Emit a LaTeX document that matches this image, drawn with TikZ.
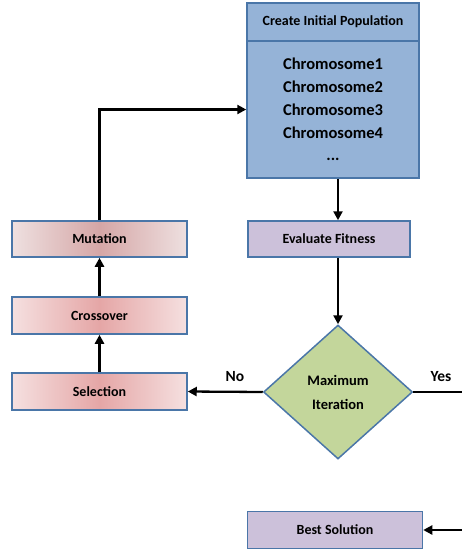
\documentclass[tikz,border=0pt]{standalone}
\usepackage{fontspec}
\setmainfont{Carlito}
\usetikzlibrary{shapes.geometric,arrows.meta}

\definecolor{popFill}{HTML}{95B3D7}
\definecolor{boxEdge}{HTML}{4A76A8}
\definecolor{lilacFill}{HTML}{CCC1DA}
\definecolor{greenFill}{HTML}{C3D69B}
\definecolor{pinkSide}{HTML}{F5E0E0}
\definecolor{pinkMid}{HTML}{E5A6A6}
\definecolor{roseSide}{HTML}{EEE0E0}
\definecolor{roseMid}{HTML}{D5A6A6}

\begin{document}
\begin{tikzpicture}
[x=1pt,y=-1pt,
  boxDecorate/.style={shape=rectangle,draw=boxEdge,line width=1.5pt,inner sep=0pt,
    font=\bfseries\fontsize{14}{16}\selectfont},%
  popDecorate/.style={boxDecorate,fill=popFill,minimum width=172pt},%
  lilacDecorate/.style={boxDecorate,fill=lilacFill,minimum height=36pt},%
  pinkDecorate/.style={boxDecorate,minimum width=175pt,minimum height=37pt,
    left color=pinkSide,right color=pinkSide,middle color=pinkMid},%
  lineDecorate/.style={line width=2.3pt,-{Triangle[length=9pt,width=9pt]}},%
  labelDecorate/.style={font=\bfseries\fontsize{15.5}{17}\selectfont}]
\useasboundingbox (0,0) rectangle (462,550);
%% population block
\node (pophead) at (333,22) [popDecorate,minimum height=38pt] {Create Initial Population};
\node (popbody) at (333,109.5) [popDecorate,minimum height=137pt,align=center,
  font=\bfseries\fontsize{16.5}{23}\selectfont]
  {Chromosome1\\Chromosome2\\Chromosome3\\Chromosome4\\[-1pt]...};
%% right column
\node (evalfit) at (329,239) [lilacDecorate,minimum width=162pt] {Evaluate Fitness};
\node (maxiter) at (338,392) [shape=diamond,draw=boxEdge,line width=1.5pt,fill=greenFill,
  minimum width=149pt,minimum height=134pt,inner sep=0pt,align=center,
  font=\bfseries\fontsize{14.5}{24}\selectfont] {Maximum\\Iteration};
\node (bestsol) at (335,530) [lilacDecorate,minimum width=175pt,minimum height=37pt] {Best Solution};
%% left column
\foreach \nodename/\y/\txt in {
  selection/391.5/Selection, crossover/315.5/Crossover}
{
  \node (\nodename) at (99.5,\y) [pinkDecorate] {\txt};
}
\node (mutation) at (99.5,239) [pinkDecorate,minimum height=36pt,
  left color=roseSide,right color=roseSide,middle color=roseMid] {Mutation};
%% edges
\draw[lineDecorate] (maxiter.north |- popbody.south) -- (maxiter.north |- evalfit.north);
\draw[lineDecorate] (maxiter.north |- evalfit.south) -- (maxiter.north);
\draw[lineDecorate] (selection.north) -- (crossover.south);
\draw[lineDecorate] (crossover.north) -- (mutation.south);
\draw[lineDecorate] (mutation.north) |- (popbody.west);
\draw[lineDecorate] (maxiter.west) -- (selection.east);
\draw[lineDecorate] (maxiter.east) -- (470,392) |- (bestsol.east);
%% branch labels
\node[labelDecorate] (nolabel) at (235,377) {No};
\node[labelDecorate] (yeslabel) at (441,377) {Yes};
\end{tikzpicture}
\end{document}
